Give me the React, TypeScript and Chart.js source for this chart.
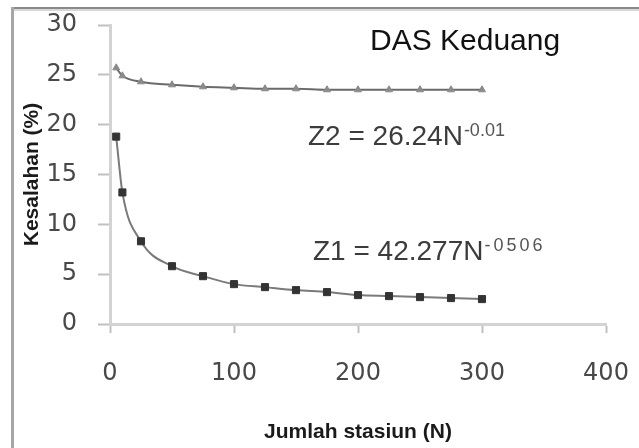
import React, { useEffect, useRef } from 'react';
import { Chart, registerables } from 'chart.js';

Chart.register(...registerables);

// Number of stations (N)
const stations = [5, 10, 25, 50, 75, 100, 125, 150, 175, 200, 225, 250, 275, 300];
// Error Z1 (%)
const z1Values = [18.8, 13.2, 8.3, 5.8, 4.8, 4.0, 3.7, 3.4, 3.2, 2.9, 2.8, 2.7, 2.6, 2.5];
// Error Z2 (%)
const z2Values = [25.7, 24.9, 24.3, 24.0, 23.8, 23.7, 23.6, 23.6, 23.5, 23.5, 23.5, 23.5, 23.5, 23.5];

const xRange = [0, 400];
const xStep = 100;
const yRange = [0, 30];
const yStep = 5;

const chartTitle = 'DAS Keduang';
const xTitle = 'Jumlah stasiun (N)';
const yTitle = 'Kesalahan (%)';
const eqZ2 = 'Z2 = 26.24N';
const eqZ2Exp = '-0.01';
const eqZ1 = 'Z1 = 42.277N';
const eqZ1Exp = '-0506';

const framePlugin = {
  id: 'frame',
  beforeDraw(chart: any) {
    const ctx = chart.ctx;
    ctx.save();
    ctx.fillStyle = '#ffffff';
    ctx.fillRect(0, 0, chart.width, chart.height);
    ctx.fillStyle = '#8a8a8a';
    ctx.fillRect(12, 7, chart.width - 12, 2);
    ctx.fillStyle = '#d8d8d8';
    ctx.fillRect(12, 9, chart.width - 12, 2);
    ctx.fillStyle = '#a6a6a6';
    ctx.fillRect(11, 7, 3, chart.height - 7);
    ctx.restore();
  },
};

const textPlugin = {
  id: 'texts',
  afterDraw(chart: any) {
    const ctx = chart.ctx;
    ctx.save();
    ctx.textAlign = 'left';
    ctx.textBaseline = 'alphabetic';
    ctx.fillStyle = '#111111';
    ctx.font = '30px "Liberation Sans", Arial, sans-serif';
    ctx.fillText(chartTitle, 370, 50);

    const drawEq = (main: string, exp: string, x: number, y: number, spacing: string) => {
      ctx.fillStyle = '#3c3c3c';
      ctx.font = '28px "Liberation Sans", Arial, sans-serif';
      ctx.fillText(main, x, y);
      const w = ctx.measureText(main).width;
      ctx.font = '18px "Liberation Sans", Arial, sans-serif';
      ctx.fillStyle = '#555555';
      (ctx as any).letterSpacing = spacing;
      ctx.fillText(exp, x + w + 1, y - 9);
      (ctx as any).letterSpacing = '0px';
    };
    drawEq(eqZ2, eqZ2Exp, 308, 145, '0px');
    drawEq(eqZ1, eqZ1Exp, 313, 260, '3px');
    ctx.restore();
  },
};

export default function App() {
  const canvasRef = useRef<HTMLCanvasElement | null>(null);

  useEffect(() => {
    if (!canvasRef.current) return;
    const tickFont = { family: '"DejaVu Sans", sans-serif', size: 24 };
    const titleFont = { family: '"Liberation Sans", Arial, sans-serif', size: 21, weight: 'bold' as const };
    const chart = new Chart(canvasRef.current, {
      type: 'scatter',
      data: {
        datasets: [
          {
            label: 'Z2',
            data: stations.map((n, i) => ({ x: n, y: z2Values[i] })),
            showLine: true,
            borderColor: '#6a6a6a',
            borderWidth: 2,
            pointStyle: 'triangle',
            pointRadius: 4,
            pointBackgroundColor: '#8a8a8a',
            pointBorderColor: '#8a8a8a',
            pointBorderWidth: 1,
            cubicInterpolationMode: 'monotone',
          },
          {
            label: 'Z1',
            data: stations.map((n, i) => ({ x: n, y: z1Values[i] })),
            showLine: true,
            borderColor: '#7a7a7a',
            borderWidth: 2,
            pointStyle: 'rect',
            pointRadius: 5,
            pointBackgroundColor: '#333333',
            pointBorderColor: '#333333',
            pointBorderWidth: 1,
            cubicInterpolationMode: 'monotone',
          },
        ],
      },
      options: {
        animation: false,
        responsive: true,
        maintainAspectRatio: false,
        layout: { padding: { left: 0, top: 25, right: 33, bottom: 0 } },
        plugins: {
          legend: { display: false },
          tooltip: { enabled: false },
        },
        scales: {
          x: {
            type: 'linear',
            min: xRange[0],
            max: xRange[1],
            ticks: { stepSize: xStep, font: tickFont, color: '#484848', padding: 26 },
            grid: { drawOnChartArea: false, drawTicks: true, tickLength: 9, tickColor: '#c0c0c0', tickWidth: 2 },
            border: { display: true, color: '#d3d3d3', width: 3 },
            title: { display: true, text: xTitle, font: titleFont, color: '#1a1a1a', padding: { top: 0, bottom: 3 } },
            afterFit(scale: any) {
              scale.height = 124;
              scale.paddingLeft = 0;
              scale.paddingRight = 0;
            },
          },
          y: {
            type: 'linear',
            min: yRange[0],
            max: yRange[1],
            ticks: { stepSize: yStep, font: tickFont, color: '#484848', padding: 21 },
            grid: { drawOnChartArea: false, drawTicks: true, tickLength: 12, tickColor: '#c0c0c0', tickWidth: 2 },
            border: { display: true, color: '#d3d3d3', width: 3 },
            title: { display: true, text: yTitle, font: titleFont, color: '#1a1a1a', padding: { top: 20, bottom: 0 } },
            afterFit(scale: any) {
              scale.width = 110;
              scale.paddingTop = 0;
              scale.paddingBottom = 0;
            },
          },
        },
      },
      plugins: [framePlugin, textPlugin],
    });
    return () => chart.destroy();
  }, []);

  return (
    <div style={{ position: 'absolute', left: 0, top: 0, width: 639, height: 448, background: '#fff' }}>
      <canvas ref={canvasRef} />
    </div>
  );
}
